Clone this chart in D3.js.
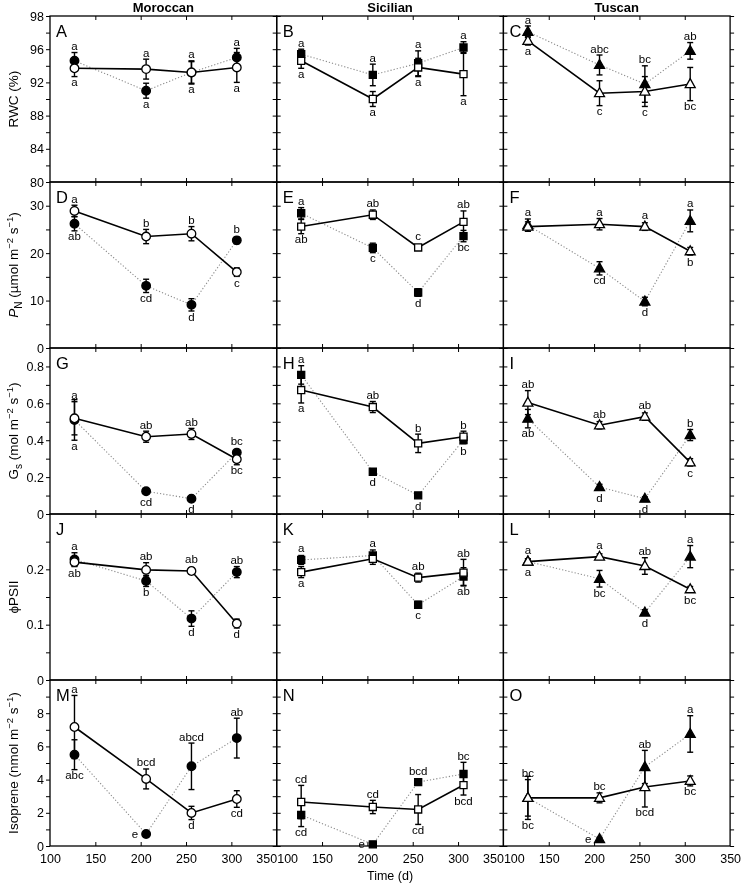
<!DOCTYPE html>
<html>
<head>
<meta charset="utf-8">
<script src="https://cdn.jsdelivr.net/npm/d3@7"></script>
<style>
  body { margin: 0; background: #fff; }
  svg { font-family: "Liberation Sans", Arial, sans-serif; will-change: transform; }
  svg text { -webkit-font-smoothing: antialiased; }
</style>
</head>
<body>
<div id="chart"></div>
<script>
// sampling days and cultivars (columns)
const days = [127, 206, 256, 306];
const cultivars = ['Moroccan', 'Sicilian', 'Tuscan'];
const panelLetters = [['A', 'B', 'C'], ['D', 'E', 'F'], ['G', 'H', 'I'], ['J', 'K', 'L'], ['M', 'N', 'O']];
const xTicks = [100, 150, 200, 250, 300, 350];

// RWC (%)
const rwcStress = [[94.6, 91.0, 93.2, 95.0], [95.4, 92.9, 94.3, 96.2], [98.1, 94.1, 91.8, 95.8]];
const rwcStressSe = [[1.0, 0.9, 1.3, 1.1], [0.6, 1.3, 1.5, 0.7], [0.7, 1.2, 2.2, 1.0]];
const rwcControl = [[93.7, 93.6, 93.2, 93.8], [94.6, 90.0, 93.8, 93.0], [97.0, 90.7, 90.9, 91.8]];
const rwcControlSe = [[1.0, 1.2, 1.4, 1.8], [0.9, 0.9, 1.1, 2.6], [0.5, 1.5, 1.8, 2.0]];
const rwcStressLet = [['a', 'a', 'a', 'a'], ['a', 'a', 'a', 'a'], ['a', 'abc', 'bc', 'ab']];
const rwcControlLet = [['a', 'a', 'a', 'a'], ['a', 'a', 'a', 'a'], ['a', 'c', 'c', 'bc']];

// net photosynthesis
const pnStress = [[26.2, 13.1, 9.1, 22.7], [28.4, 21.1, 11.7, 23.6], [25.9, 16.8, 9.8, 26.8]];
const pnStressSe = [[1.5, 1.4, 1.3, 0.7], [1.2, 1.0, 0.8, 1.2], [1.3, 1.4, 0.9, 2.3]];
const pnControl = [[28.9, 23.5, 24.1, 16.0], [25.6, 28.1, 21.2, 26.6], [25.6, 26.1, 25.6, 20.4]];
const pnControlSe = [[1.2, 1.5, 1.5, 0.9], [1.5, 1.0, 0.5, 2.3], [1.0, 1.2, 0.8, 0.8]];
const pnStressLet = [['ab', 'cd', 'd', 'b'], ['a', 'c', 'd', 'bc'], ['a', 'cd', 'd', 'a']];
const pnControlLet = [['a', 'b', 'b', 'c'], ['ab', 'ab', 'c', 'ab'], ['', 'a', 'a', 'b']];

// stomatal conductance
const gsStress = [[0.51, 0.123, 0.083, 0.333], [0.754, 0.229, 0.101, 0.401], [0.517, 0.146, 0.083, 0.428]];
const gsStressSe = [[0.11, 0.012, 0.008, 0.012], [0.05, 0.01, 0.008, 0.02], [0.05, 0.015, 0.01, 0.03]];
const gsControl = [[0.519, 0.419, 0.434, 0.297], [0.672, 0.58, 0.383, 0.419], [0.604, 0.481, 0.528, 0.28]];
const gsControlSe = [[0.09, 0.03, 0.03, 0.03], [0.07, 0.03, 0.05, 0.03], [0.065, 0.02, 0.02, 0.02]];
const gsStressLet = [['a', 'cd', 'd', 'bc'], ['a', 'd', 'd', 'b'], ['ab', 'd', 'd', 'b']];
const gsControlLet = [['a', 'ab', 'ab', 'bc'], ['a', 'ab', 'b', 'b'], ['ab', 'ab', 'ab', 'c']];

// PSII efficiency
const phiStress = [[0.218, 0.179, 0.111, 0.195], [0.217, 0.225, 0.136, 0.187], [0.214, 0.183, 0.122, 0.223]];
const phiStressSe = [[0.012, 0.01, 0.014, 0.01], [0.008, 0.01, 0.006, 0.016], [0.005, 0.015, 0.005, 0.02]];
const phiControl = [[0.213, 0.199, 0.197, 0.102], [0.195, 0.219, 0.185, 0.194], [0.214, 0.223, 0.206, 0.164]];
const phiControlSe = [[0.008, 0.013, 0.006, 0.008], [0.01, 0.01, 0.008, 0.024], [0.005, 0.005, 0.015, 0.005]];
const phiStressLet = [['a', 'b', 'd', 'ab'], ['a', 'a', 'c', 'ab'], ['a', 'bc', 'd', 'a']];
const phiControlLet = [['ab', 'ab', 'ab', 'd'], ['a', '', 'ab', 'ab'], ['a', 'a', 'ab', 'bc']];

// isoprene emission
const isoStress = [[5.5, 0.72, 4.8, 6.5], [1.87, 0.1, 3.85, 4.34], [2.9, 0.42, 4.76, 6.75]];
const isoStressSe = [[0.9, 0.2, 1.4, 1.2], [0.7, 0.05, 0.1, 0.7], [1.3, 0.1, 1.0, 1.1]];
const isoControl = [[7.17, 4.04, 1.99, 2.83], [2.65, 2.35, 2.2, 3.67], [2.9, 2.9, 3.55, 3.92]];
const isoControlSe = [[1.9, 0.6, 0.4, 0.5], [1.0, 0.4, 0.9, 0.6], [1.1, 0.3, 1.2, 0.3]];
const isoStressLet = [['abc', 'e', 'abcd', 'ab'], ['cd', 'e', 'bcd', 'bc'], ['bc', 'e', 'ab', 'a']];
const isoControlLet = [['a', 'bcd', 'd', 'cd'], ['cd', 'cd', 'cd', 'bcd'], ['bc', 'bc', 'bcd', 'bc']];

const rows = [
  { stress: rwcStress, stressSe: rwcStressSe, control: rwcControl, controlSe: rwcControlSe,
    stressLet: rwcStressLet, controlLet: rwcControlLet,
    domain: [80, 100], minorStep: 2, ticks: [80, 84, 88, 92, 96, 100], tickText: ['80', '84', '88', '92', '96', '98'] },
  { stress: pnStress, stressSe: pnStressSe, control: pnControl, controlSe: pnControlSe,
    stressLet: pnStressLet, controlLet: pnControlLet,
    domain: [0, 35], minorStep: 5, ticks: [0, 10, 20, 30], tickText: ['0', '10', '20', '30'] },
  { stress: gsStress, stressSe: gsStressSe, control: gsControl, controlSe: gsControlSe,
    stressLet: gsStressLet, controlLet: gsControlLet,
    domain: [0, 0.9], minorStep: 0.1, ticks: [0, 0.2, 0.4, 0.6, 0.8], tickText: ['0', '0.2', '0.4', '0.6', '0.8'] },
  { stress: phiStress, stressSe: phiStressSe, control: phiControl, controlSe: phiControlSe,
    stressLet: phiStressLet, controlLet: phiControlLet,
    domain: [0, 0.3], minorStep: 0.05, ticks: [0, 0.1, 0.2], tickText: ['0', '0.1', '0.2'] },
  { stress: isoStress, stressSe: isoStressSe, control: isoControl, controlSe: isoControlSe,
    stressLet: isoStressLet, controlLet: isoControlLet,
    domain: [0, 10], minorStep: 1, ticks: [0, 2, 4, 6, 8], tickText: ['0', '2', '4', '6', '8'] }
];

const W = 741, H = 886;
const gridLeft = 50, gridTop = 16, colW = 226.7, rowH = 166;

const svg = d3.select('#chart').append('svg')
  .attr('width', W).attr('height', H)
  .attr('viewBox', `0 0 ${W} ${H}`);

function markerPath(shape) {
  if (shape === 'circle') return d3.symbol().type(d3.symbolCircle).size(58)();
  if (shape === 'square') return d3.symbol().type(d3.symbolSquare).size(50)();
  return 'M0,-5.4L5,3.5L-5,3.5Z';
}
const shapes = ['circle', 'square', 'triangle'];

rows.forEach((row, r) => {
  const y0 = gridTop + r * rowH;
  const y = d3.scaleLinear().domain(row.domain).range([y0 + rowH, y0]);
  const minor = d3.range(row.domain[0], row.domain[1] + row.minorStep / 2, row.minorStep);

  cultivars.forEach((cv, c) => {
    const x0 = gridLeft + c * colW;
    const x = d3.scaleLinear().domain([100, 350]).range([x0, x0 + colW]);
    const g = svg.append('g');

    // frame
    g.append('rect')
      .attr('x', x0).attr('y', y0).attr('width', colW).attr('height', rowH)
      .attr('fill', 'none').attr('stroke', '#000').attr('stroke-width', 1.3);

    // y ticks (left + right)
    const yl = g.append('g').attr('transform', `translate(${x0},0)`)
      .call(d3.axisLeft(y).tickValues(minor).tickSize(4).tickFormat(''));
    const yr = g.append('g').attr('transform', `translate(${x0 + colW},0)`)
      .call(d3.axisRight(y).tickValues(minor).tickSize(4).tickFormat(''));
    // x ticks (top + bottom)
    const xt = g.append('g').attr('transform', `translate(0,${y0})`)
      .call(d3.axisBottom(x).tickValues(xTicks.slice(1, -1)).tickSize(4).tickFormat(''));
    const xb = g.append('g').attr('transform', `translate(0,${y0 + rowH})`)
      .call(d3.axisTop(x).tickValues(xTicks.slice(1, -1)).tickSize(4).tickFormat(''));
    [yl, yr, xt, xb].forEach(a => {
      a.select('.domain').remove();
      a.selectAll('line').attr('stroke', '#000').attr('stroke-width', 1);
    });

    if (c === 0) {
      row.ticks.forEach((t, i) => {
        g.append('text')
          .attr('x', x0 - 6).attr('y', y(t) + 4.5)
          .attr('text-anchor', 'end').attr('font-size', 12.5).attr('fill', '#000')
          .text(row.tickText[i]);
      });
    }
    if (r === rows.length - 1) {
      const xa = g.append('g').attr('transform', `translate(0,${y0 + rowH})`)
        .call(d3.axisBottom(x).tickValues(xTicks).tickSize(0).tickPadding(8));
      xa.select('.domain').remove();
      xa.selectAll('text').attr('font-size', 12.5)
        .attr('font-family', '"Liberation Sans", Arial, sans-serif').attr('fill', '#000')
        .attr('text-anchor', (t, i) => {
          if (i === 0 && c > 0) return 'start';
          if (i === xTicks.length - 1 && c < cultivars.length - 1) return 'end';
          return 'middle';
        });
    }

    // panel letter
    g.append('text')
      .attr('x', x0 + 6).attr('y', y0 + 21)
      .attr('font-size', 16.5).attr('fill', '#000').text(panelLetters[r][c]);

    const stress = days.map((d, i) => ({ d, v: row.stress[c][i], se: row.stressSe[c][i], lab: row.stressLet[c][i], other: row.control[c][i], kind: 's' }));
    const control = days.map((d, i) => ({ d, v: row.control[c][i], se: row.controlSe[c][i], lab: row.controlLet[c][i], other: row.stress[c][i], kind: 'c' }));

    const line = d3.line().x(p => x(p.d)).y(p => y(p.v));
    g.append('path').datum(stress).attr('d', line)
      .attr('fill', 'none').attr('stroke', '#8a8a8a').attr('stroke-width', 1.1)
      .attr('stroke-dasharray', '1.2,2');
    g.append('path').datum(control).attr('d', line)
      .attr('fill', 'none').attr('stroke', '#000').attr('stroke-width', 1.6);

    [stress, control].forEach(ser => {
      ser.forEach(p => {
        const px = x(p.d), ya = y(p.v + p.se), yb = y(p.v - p.se);
        g.append('line').attr('x1', px).attr('x2', px).attr('y1', ya).attr('y2', yb)
          .attr('stroke', '#000').attr('stroke-width', 1.4);
        [ya, yb].forEach(yy => g.append('line')
          .attr('x1', px - 3).attr('x2', px + 3).attr('y1', yy).attr('y2', yy)
          .attr('stroke', '#000').attr('stroke-width', 1.4));
      });
    });

    [stress, control].forEach(ser => {
      g.selectAll(null).data(ser).enter().append('path')
        .attr('d', markerPath(shapes[c]))
        .attr('transform', p => `translate(${x(p.d)},${y(p.v)})`)
        .attr('fill', p => p.kind === 's' ? '#000' : '#fff')
        .attr('stroke', '#000').attr('stroke-width', 1.3);
    });

    // significance letters
    [stress, control].forEach(ser => {
      ser.forEach(p => {
        if (!p.lab) return;
        const px = x(p.d);
        const above = p.v > p.other || (p.v === p.other && p.kind === 'c');
        const hi = Math.min(y(p.v + p.se), y(p.v) - 5);
        const lo = Math.max(y(p.v - p.se), y(p.v) + 5);
        let tx = px, ty, anchor = 'middle';
        if (above) ty = hi - 2.5;
        else ty = lo + 9.5;
        if (!above && ty > y0 + rowH) {
          tx = px - 8; ty = y(p.v) + 4; anchor = 'end';
        }
        if (above && ty < y0 + 8) ty = y0 + 8;
        g.append('text').attr('x', tx).attr('y', ty)
          .attr('text-anchor', anchor).attr('font-size', 11.5).attr('fill', '#000')
          .text(p.lab);
      });
    });

    if (r === 0) {
      svg.append('text').attr('x', x0 + colW / 2).attr('y', 12)
        .attr('text-anchor', 'middle').attr('font-size', 13).attr('font-weight', 'bold')
        .attr('fill', '#000').text(cv);
    }
  });
});

// y-axis titles
function yTitle(r, build) {
  const cy = gridTop + r * rowH + rowH / 2;
  const t = svg.append('text')
    .attr('transform', `translate(18,${cy}) rotate(-90)`)
    .attr('text-anchor', 'middle').attr('font-size', 13.5).attr('fill', '#000');
  build(t);
}
yTitle(0, t => t.text('RWC (%)'));
yTitle(1, t => {
  t.append('tspan').attr('font-style', 'italic').text('P');
  t.append('tspan').attr('font-size', 10).attr('dy', 4).text('N');
  t.append('tspan').attr('dy', -4).text(' (µmol m');
  t.append('tspan').attr('font-size', 9.5).attr('dy', -5).text('−2');
  t.append('tspan').attr('dy', 5).text(' s');
  t.append('tspan').attr('font-size', 9.5).attr('dy', -5).text('−1');
  t.append('tspan').attr('dy', 5).text(')');
});
yTitle(2, t => {
  t.append('tspan').text('G');
  t.append('tspan').attr('font-size', 10).attr('dy', 4).text('s');
  t.append('tspan').attr('dy', -4).text(' (mol m');
  t.append('tspan').attr('font-size', 9.5).attr('dy', -5).text('−2');
  t.append('tspan').attr('dy', 5).text(' s');
  t.append('tspan').attr('font-size', 9.5).attr('dy', -5).text('−1');
  t.append('tspan').attr('dy', 5).text(')');
});
yTitle(3, t => t.text('ϕPSII'));
yTitle(4, t => {
  t.append('tspan').text('Isoprene (nmol m');
  t.append('tspan').attr('font-size', 9.5).attr('dy', -5).text('−2');
  t.append('tspan').attr('dy', 5).text(' s');
  t.append('tspan').attr('font-size', 9.5).attr('dy', -5).text('−1');
  t.append('tspan').attr('dy', 5).text(')');
});

svg.append('text').attr('x', gridLeft + 1.5 * colW).attr('y', 880)
  .attr('text-anchor', 'middle').attr('font-size', 12.5).attr('fill', '#000').text('Time (d)');
</script>
</body>
</html>
